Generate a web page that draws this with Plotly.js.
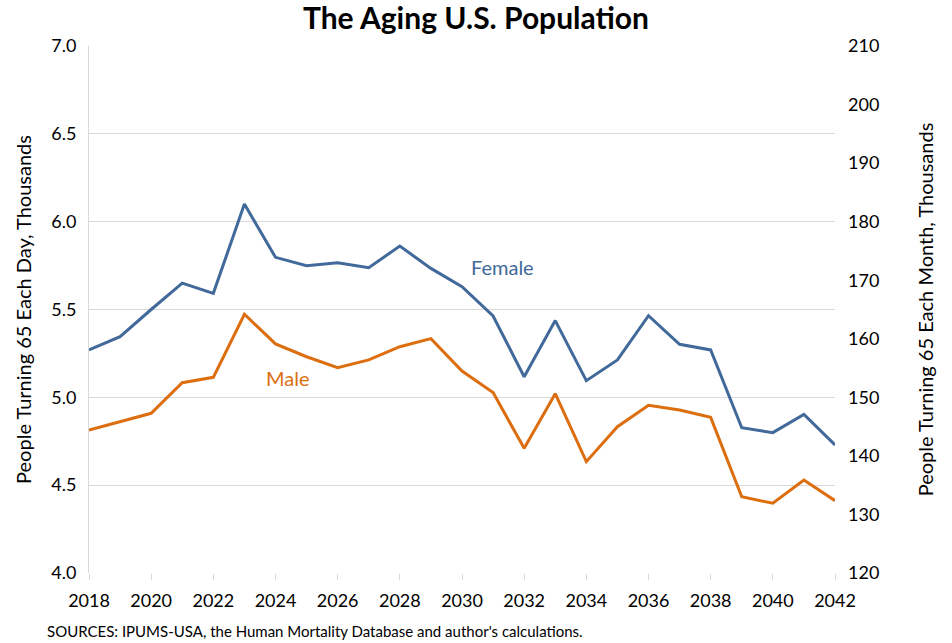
<!DOCTYPE html>
<html>
<head>
<meta charset="utf-8">
<script src="https://cdn.plot.ly/plotly-3.0.1.min.js"></script>
<style>html,body{margin:0;padding:0;background:#fff;}#chart{width:952px;height:643px;}</style>
</head>
<body>
<div id="chart"></div>
<script>
const years = [2018,2019,2020,2021,2022,2023,2024,2025,2026,2027,2028,2029,2030,2031,2032,2033,2034,2035,2036,2037,2038,2039,2040,2041,2042];
const female = [5.27,5.345,5.50,5.65,5.592,6.10,5.797,5.749,5.766,5.738,5.861,5.734,5.630,5.463,5.117,5.437,5.095,5.213,5.465,5.302,5.27,4.827,4.799,4.903,4.729];
const male = [4.814,4.861,4.909,5.083,5.114,5.473,5.304,5.231,5.169,5.213,5.288,5.334,5.150,5.027,4.710,5.021,4.634,4.833,4.955,4.928,4.886,4.434,4.397,4.529,4.412];
const xTicks = [2018,2020,2022,2024,2026,2028,2030,2032,2034,2036,2038,2040,2042];
const leftTicks = [4.0,4.5,5.0,5.5,6.0,6.5,7.0];
const rightTicks = [120,130,140,150,160,170,180,190,200,210];

const blue = '#41699a';
const orange = '#dc6e0f';
const font = 'Lato, "Open Sans", sans-serif';

const traces = [
  {x: years, y: female, type: 'scatter', mode: 'lines', name: 'Female', line: {color: blue, width: 3}},
  {x: years, y: male, type: 'scatter', mode: 'lines', name: 'Male', line: {color: orange, width: 3}},
  {x: [], y: [], type: 'scatter', mode: 'lines', yaxis: 'y2', hoverinfo: 'skip', showlegend: false}
];

const layout = {
  width: 952, height: 643,
  margin: {l: 89, r: 117, t: 46, b: 70},
  paper_bgcolor: '#fff', plot_bgcolor: '#fff',
  showlegend: false,
  font: {family: font, color: '#000', size: 16},
  title: {text: '<b>The Aging U.S. Population</b>', x: 0.5, xanchor: 'center', y: 0.972, yanchor: 'middle', font: {size: 30, family: font, color: '#000'}},
  xaxis: {
    range: [2018, 2042], tickvals: xTicks, ticktext: xTicks.map(String),
    showgrid: false, zeroline: false, showline: false,
    ticks: 'outside', ticklen: 6, tickcolor: '#d9d9d9', tickwidth: 1,
    tickfont: {size: 18, family: font, color: '#000'}, ticklabelstandoff: 5
  },
  yaxis: {
    range: [4.0, 7.0], tickvals: leftTicks, ticktext: leftTicks.map(v => v.toFixed(1)),
    showgrid: true, gridcolor: '#d9d9d9', gridwidth: 1, zeroline: false,
    showline: true, linecolor: '#d9d9d9', linewidth: 1, ticks: '',
    tickfont: {size: 18, family: font, color: '#000'}, ticklabelstandoff: 8,
    title: {text: 'People Turning 65 Each Day, Thousands', font: {size: 20, family: font, color: '#000'}, standoff: 14}
  },
  yaxis2: {
    overlaying: 'y', side: 'right', range: [120, 210], tickvals: rightTicks, ticktext: rightTicks.map(String),
    showgrid: false, zeroline: false, showline: false, ticks: '',
    tickfont: {size: 18, family: font, color: '#000'}, ticklabelstandoff: 12,
    title: {text: 'People Turning 65 Each Month, Thousands', font: {size: 20, family: font, color: '#000'}, standoff: 40}
  },
  annotations: [
    {x: 2031.3, y: 5.74, xref: 'x', yref: 'y', text: 'Female', showarrow: false, font: {size: 20, family: font, color: blue}},
    {x: 2024.4, y: 5.11, xref: 'x', yref: 'y', text: 'Male', showarrow: false, font: {size: 20, family: font, color: orange}},
    {x: 45, y: 631, xref: 'paper', yref: 'paper', text: "SOURCES: IPUMS-USA, the Human Mortality Database and author's calculations.", showarrow: false, font: {size: 15, family: font, color: '#000'}, xanchor: 'left', yanchor: 'middle'}
  ]
};
const pw = 952 - 89 - 117, ph = 643 - 46 - 70;
layout.annotations[2].x = (45 - 89) / pw;
layout.annotations[2].y = (573 - 631) / ph;

Plotly.newPlot('chart', traces, layout, {displayModeBar: false, staticPlot: true});
</script>
</body>
</html>
